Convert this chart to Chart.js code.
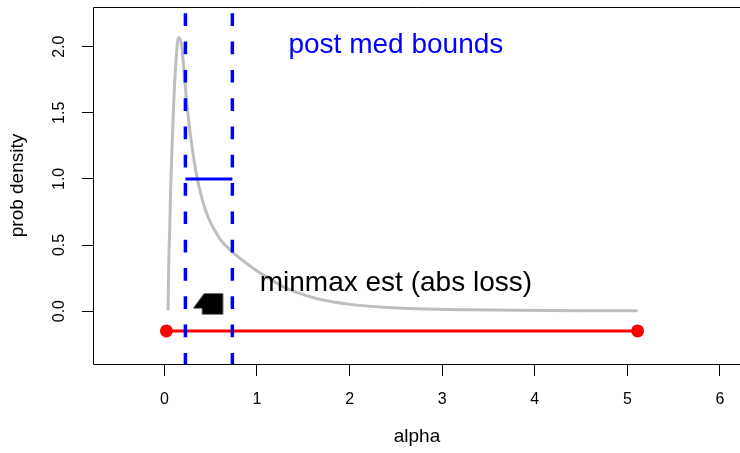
<!DOCTYPE html>
<html>
<head>
<meta charset="utf-8">
<script src="https://cdn.jsdelivr.net/npm/chart.js@4"></script>
<style>
  html, body { margin: 0; padding: 0; background: #ffffff; }
  canvas { display: block; }
</style>
</head>
<body>
<canvas id="plot" width="740" height="453"></canvas>
<script>
// Posterior density of alpha (grey curve)
const alphaGrid = [0.040, 0.047, 0.057, 0.068, 0.083, 0.097, 0.111, 0.126, 0.140, 0.150,
                   0.165, 0.184, 0.208, 0.234, 0.263, 0.299, 0.353, 0.443, 0.587, 0.731,
                   0.947, 1.12, 1.29, 1.47, 1.65, 2.01, 2.37, 2.73, 3.27, 3.81, 4.53, 5.11];
const densityValues = [0.005, 0.36, 0.61, 0.92, 1.25, 1.50, 1.73, 1.90, 2.02, 2.07,
                       2.06, 2.02, 1.85, 1.63, 1.44, 1.24, 1.01, 0.765, 0.56, 0.45,
                       0.33, 0.252, 0.182, 0.132, 0.094, 0.051, 0.030, 0.018, 0.010, 0.006, 0.003, 0.002];

// Posterior-median bounds (dashed verticals) and the level of the bar joining them
const medBounds = [0.227, 0.734];
const medBoundLevel = 1.0;

// Minmax estimate interval under absolute loss (red bar)
const minmaxRange = [0.022, 5.11];
const minmaxLevel = -0.15;

// Pointer mark next to the interval
const estimatePoint = [0.52, 0.055];

// Axes
const xTicks = [0, 1, 2, 3, 4, 5, 6];
const yTicks = [0, 0.5, 1, 1.5, 2];
const xLimits = [-0.76, 6.216];
const yLimits = [-0.4, 2.3];

// Annotations: text and anchor [x, y]
const noteMed = { text: 'post med bounds', at: [2.5, 2.0], color: '#0000ff' };
const noteMinmax = { text: 'minmax est (abs loss)', at: [2.5, 0.2], color: '#000000' };

const FONT = "'Liberation Sans', Arial, Helvetica, sans-serif";
Chart.defaults.font.family = FONT;
Chart.defaults.color = '#000000';

// Marker glyph: square block with a triangular head pointing down-left
function makePointer() {
  const c = document.createElement('canvas');
  c.width = 40; c.height = 22;
  const g = c.getContext('2d');
  g.fillStyle = '#000000';
  g.beginPath();
  g.moveTo(11.5, 0.5);
  g.lineTo(30.5, 0.5);
  g.lineTo(30.5, 21.5);
  g.lineTo(9.5, 21.5);
  g.lineTo(9.5, 15.5);
  g.lineTo(0.5, 15.5);
  g.closePath();
  g.fill();
  return c;
}

const curvePoints = alphaGrid.map((a, i) => ({ x: a, y: densityValues[i] }));

// Dashed vertical lines spanning the whole plot region
const boundLines = {
  id: 'boundLines',
  afterDatasetsDraw(chart) {
    const { ctx, chartArea: a, scales: { x } } = chart;
    ctx.save();
    ctx.beginPath();
    ctx.rect(a.left, a.top, a.right - a.left, a.bottom - a.top);
    ctx.clip();
    ctx.strokeStyle = '#0000ff';
    ctx.lineWidth = 3.5;
    ctx.lineCap = 'butt';
    ctx.setLineDash([12.7, 15.6]);
    ctx.lineDashOffset = 22;
    medBounds.forEach(v => {
      const px = x.getPixelForValue(v);
      ctx.beginPath();
      ctx.moveTo(px, a.top);
      ctx.lineTo(px, a.bottom);
      ctx.stroke();
    });
    ctx.restore();
  }
};

// Text notes placed in data coordinates
const notes = {
  id: 'notes',
  afterDatasetsDraw(chart) {
    const { ctx, scales: { x, y } } = chart;
    ctx.save();
    ctx.font = '28px ' + FONT;
    ctx.textAlign = 'center';
    ctx.textBaseline = 'alphabetic';
    [noteMed, noteMinmax].forEach(n => {
      ctx.fillStyle = n.color;
      ctx.fillText(n.text, x.getPixelForValue(n.at[0]), y.getPixelForValue(n.at[1]) + 6.7);
    });
    ctx.restore();
  }
};

// Frame around the plot region (open on the right, where the region runs past the page)
const frame = {
  id: 'frame',
  afterDraw(chart) {
    const { ctx, chartArea: a } = chart;
    const l = Math.round(a.left) - 0.5, t = Math.round(a.top) + 0.5, b = Math.round(a.bottom) + 0.5;
    ctx.save();
    ctx.strokeStyle = '#000000';
    ctx.lineWidth = 1;
    ctx.beginPath();
    ctx.moveTo(a.right + 2, t);
    ctx.lineTo(l, t);
    ctx.lineTo(l, b);
    ctx.lineTo(a.right + 2, b);
    ctx.stroke();
    ctx.restore();
  }
};

// Fixed axis sizes; no extra padding reserved for edge labels
function fixSize(prop, size) {
  return s => {
    s[prop] = size;
    s.paddingLeft = 0; s.paddingRight = 0; s.paddingTop = 0; s.paddingBottom = 0;
  };
}

new Chart(document.getElementById('plot'), {
  type: 'scatter',
  data: {
    datasets: [
      {
        data: [{ x: estimatePoint[0], y: estimatePoint[1] }],
        pointStyle: makePointer(),
        pointRadius: 11,
        showLine: false
      },
      {
        data: medBounds.map(v => ({ x: v, y: medBoundLevel })),
        showLine: true,
        borderColor: '#0000ff',
        borderWidth: 3,
        pointRadius: 0
      },
      {
        data: minmaxRange.map(v => ({ x: v, y: minmaxLevel })),
        showLine: true,
        borderColor: '#ff0000',
        borderWidth: 3,
        pointRadius: 6.5,
        pointBackgroundColor: '#ff0000',
        pointBorderWidth: 0
      },
      {
        data: curvePoints,
        showLine: true,
        borderColor: '#bebebe',
        borderWidth: 3,
        pointRadius: 0,
        cubicInterpolationMode: 'monotone'
      }
    ]
  },
  options: {
    responsive: false,
    animation: false,
    devicePixelRatio: 1,
    layout: { autoPadding: false, padding: { left: 0, top: 7, right: 0, bottom: 0 } },
    plugins: { legend: { display: false }, tooltip: { enabled: false } },
    scales: {
      x: {
        type: 'linear',
        min: xLimits[0],
        max: xLimits[1],
        afterBuildTicks: s => { s.ticks = xTicks.map(v => ({ value: v })); },
        afterFit: fixSize('height', 89),
        grid: { display: true, drawOnChartArea: false, drawTicks: true, tickLength: 12, color: '#000000', lineWidth: 1 },
        border: { display: false },
        ticks: { padding: 13.5, font: { size: 16 }, maxRotation: 0, autoSkip: false, callback: v => String(v) },
        title: { display: true, text: 'alpha', font: { size: 19 }, padding: { top: 0, bottom: 5 } }
      },
      y: {
        type: 'linear',
        min: yLimits[0],
        max: yLimits[1],
        afterBuildTicks: s => { s.ticks = yTicks.map(v => ({ value: v })); },
        afterFit: fixSize('width', 94),
        grid: { display: true, drawOnChartArea: false, drawTicks: true, tickLength: 12, color: '#000000', lineWidth: 1 },
        border: { display: false },
        ticks: { padding: 10.9, font: { size: 16 }, minRotation: 90, maxRotation: 90, crossAlign: 'center', autoSkip: false, callback: v => v.toFixed(1) },
        title: { display: true, text: 'prob density', font: { size: 19 }, padding: { top: 6.7, bottom: 0 } }
      }
    }
  },
  plugins: [boundLines, notes, frame]
});
</script>
</body>
</html>
